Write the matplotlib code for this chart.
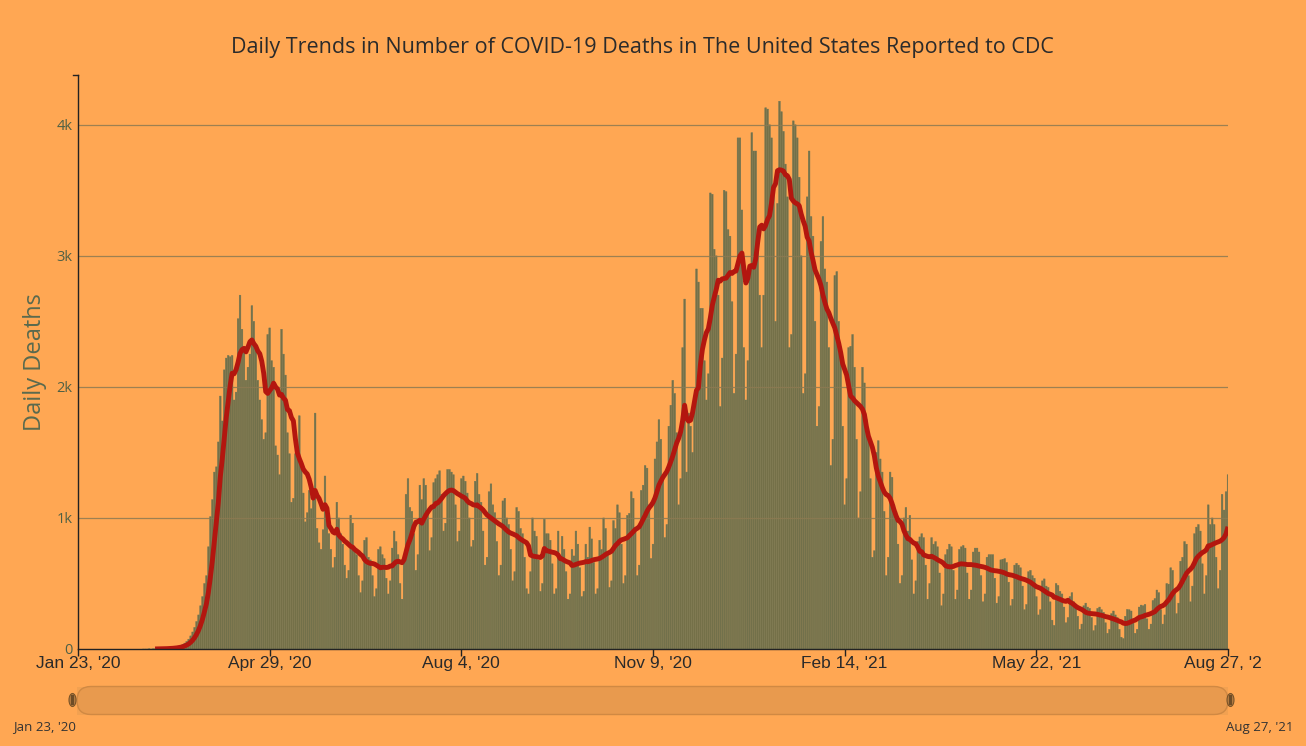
import numpy as np
import pandas as pd
import matplotlib
matplotlib.use('Agg')
import matplotlib.pyplot as plt
from matplotlib.patches import FancyBboxPatch, Rectangle, Ellipse
from matplotlib.transforms import IdentityTransform, Bbox
from matplotlib.lines import Line2D

# ---------------- data ----------------
title = "Daily Trends in Number of COVID-19 Deaths in The United States Reported to CDC"
y_label = "Daily Deaths"
start_date = "2020-02-25"
# daily deaths, one reporting week per line (Thu..Wed after the first two days)
deaths = [
    0, 0,
    0, 1, 0, 1, 1, 2, 3,
    2, 3, 4, 5, 6, 8, 10,
    12, 15, 20, 25, 35, 45, 58,
    75, 100, 130, 165, 210, 260, 330,
    400, 500, 560, 780, 1010, 1140, 1350,
    1390, 1580, 1930, 1740, 2130, 2220, 2240,
    2230, 2240, 1900, 1960, 2520, 2700, 2440,
    2300, 2050, 2150, 2250, 2620, 2500, 2300,
    2050, 1900, 1750, 1600, 1650, 2400, 2450,
    2200, 2150, 1550, 1480, 1330, 2440, 2250,
    2090, 1650, 1490, 1120, 1150, 1490, 1490,
    1780, 1390, 1190, 970, 1040, 1210, 1070,
    1190, 1800, 920, 810, 760, 910, 1320,
    1000, 880, 760, 620, 700, 1120, 1000,
    880, 800, 640, 540, 600, 1020, 960,
    760, 720, 560, 430, 520, 830, 850,
    700, 680, 560, 400, 460, 760, 780,
    720, 690, 540, 420, 520, 770, 900,
    820, 720, 500, 380, 680, 1180, 1300,
    1080, 1050, 880, 600, 720, 1250, 1140,
    1300, 1250, 1050, 750, 850, 1270, 1300,
    1330, 1360, 1180, 900, 960, 1370, 1370,
    1350, 1330, 1100, 820, 900, 1300, 1320,
    1280, 1190, 1000, 780, 830, 1280, 1340,
    1180, 1120, 900, 640, 700, 1200, 1260,
    1100, 1040, 820, 560, 640, 1130, 1150,
    1000, 950, 760, 520, 590, 1080, 1050,
    920, 880, 700, 460, 420, 590, 1000,
    900, 860, 680, 440, 500, 990, 880,
    880, 830, 650, 420, 460, 900, 690,
    860, 760, 590, 380, 420, 760, 710,
    900, 800, 620, 400, 440, 800, 700,
    930, 840, 660, 420, 460, 830, 760,
    1000, 920, 720, 470, 520, 980, 920,
    1100, 1040, 800, 500, 560, 1020, 1035,
    1200, 1150, 920, 560, 640, 1210, 1250,
    1400, 1380, 1100, 690, 800, 1450, 1580,
    1750, 1600, 1300, 850, 950, 1700, 1860,
    2050, 1950, 1650, 1100, 1300, 2300, 2670,
    1350, 1800, 1700, 1500, 1900, 2900, 2800,
    2600, 2600, 2200, 1900, 2100, 3480, 3470,
    3050, 3000, 2700, 1850, 2220, 3500, 3490,
    3200, 3150, 2650, 1950, 2250, 3900, 3900,
    3350, 2300, 1900, 2200, 2900, 3940, 3800,
    3800, 3200, 2700, 2300, 2700, 4130, 4120,
    4000, 3900, 3500, 2500, 3400, 4180, 4100,
    3950, 3700, 3450, 2300, 2400, 4030, 4000,
    3900, 3600, 3000, 1950, 2100, 3450, 3800,
    3300, 3150, 2500, 1700, 1850, 3110, 3300,
    2900, 2800, 2300, 1400, 1600, 2850, 2880,
    2500, 2300, 1700, 1100, 1300, 2300, 2310,
    2400, 2150, 1600, 1000, 1200, 2150, 2030,
    1750, 1650, 1300, 700, 750, 1500, 1590,
    1450, 1350, 1050, 560, 700, 1350, 1310,
    1100, 1050, 800, 500, 560, 1000, 1080,
    900, 1020, 680, 420, 520, 820, 855,
    880, 850, 640, 380, 500, 850, 800,
    820, 780, 580, 330, 420, 720, 760,
    800, 780, 600, 380, 450, 760, 780,
    790, 770, 580, 380, 450, 740, 770,
    770, 740, 560, 360, 420, 700, 720,
    720, 720, 540, 350, 400, 680, 685,
    690, 660, 510, 330, 380, 640, 654,
    640, 620, 480, 300, 340, 590, 600,
    560, 540, 400, 260, 300, 520, 535,
    480, 470, 360, 220, 180, 500, 485,
    440, 420, 320, 200, 240, 400, 430,
    360, 330, 250, 150, 190, 330, 350,
    320, 310, 240, 140, 180, 310, 320,
    300, 280, 200, 120, 150, 270, 290,
    260, 240, 150, 90, 80, 250, 302,
    300, 290, 200, 120, 150, 320, 335,
    330, 340, 230, 150, 190, 370, 385,
    450, 430, 300, 190, 260, 500, 495,
    620, 600, 430, 270, 350, 670, 700,
    820, 800, 560, 360, 480, 880, 930,
    950, 900, 650, 420, 560, 1100, 950,
    1000, 950, 700, 460, 600, 1180, 1060,
    1200, 1330,
]
x_start = "2020-01-23"
x_end = "2021-08-27"
tick_dates = ["2020-01-23", "2020-04-29", "2020-08-04", "2020-11-09",
              "2021-02-14", "2021-05-22", "2021-08-27"]
tick_labels = ["Jan 23, '20", "Apr 29, '20", "Aug 4, '20", "Nov 9, '20",
               "Feb 14, '21", "May 22, '21", "Aug 27, '21"]
y_ticks = [0, 1000, 2000, 3000, 4000]
y_tick_labels = ["0", "1k", "2k", "3k", "4k"]
y_max = 4380
slider_labels = ["Jan 23, '20", "Aug 27, '21"]

# ---------------- style ----------------
BG = '#FFA753'
BAR = '#747048'
EDGE = '#687558'
RED = '#B3160F'
GRID = '#8c7a52'
W, H = 1306, 746
L, R, T, B = 78, 1228, 75, 649

fig = plt.figure(figsize=(W / 100, H / 100), dpi=100, facecolor=BG)
ax = fig.add_axes([L / W, 1 - B / H, (R - L) / W, (B - T) / H])
ax.set_facecolor(BG)

dates = pd.date_range(start_date, periods=len(deaths), freq='D')
bars = ax.bar(dates, deaths, width=0.85, color=BAR, edgecolor=EDGE, linewidth=0.3, zorder=2)
for p in bars.patches:
    p.set_snap(False)
avg = pd.Series(deaths, index=dates, dtype=float).rolling(7).mean()
ax.plot(avg.index, avg.values, color=RED, lw=3.5, zorder=4,
        solid_joinstyle='round', solid_capstyle='butt')

for yv in y_ticks[1:]:
    ax.axhline(yv, color=GRID, lw=0.9, alpha=0.85, zorder=3)

ax.set_xlim(pd.Timestamp(x_start), pd.Timestamp(x_end))
ax.set_ylim(0, y_max)

for s in ['top', 'right']:
    ax.spines[s].set_visible(False)
for s in ['left', 'bottom']:
    ax.spines[s].set_color('#222222')
    ax.spines[s].set_linewidth(1.0)
    ax.spines[s].set_zorder(5)

ax.set_yticks(y_ticks)
ax.set_yticklabels(y_tick_labels, fontfamily='Open Sans', fontsize=10.5, color='#4f6045')
ax.tick_params(axis='y', length=0, pad=4)

ax.set_xticks([pd.Timestamp(d) for d in tick_dates])
ax.set_xticklabels([])
ax.tick_params(axis='x', length=5, width=1, color='#222222', direction='out')

clip = Bbox([[0, 0], [1262, H]])
for d, lab in zip(tick_dates, tick_labels):
    t = ax.text(pd.Timestamp(d), -0.026, lab, transform=ax.get_xaxis_transform(),
                ha='center', va='center', fontsize=12.5, family='Liberation Sans',
                color='#2a2a2a', clip_on=True)
    t.set_clip_box(clip)

# small stub at top of y axis
fig.add_artist(Line2D([73, 78], [H - 75, H - 75], transform=IdentityTransform(),
                      color='#222222', lw=1.0))

fig.text(642 / W, 1 - 47 / H, title, ha='center', va='center', fontsize=15.5,
         family='Open Sans', color='#2b2b2b')
fig.text(35 / W, 1 - 362 / H, y_label, rotation=90, ha='center', va='center',
         fontsize=17, family='Open Sans', color='#5a6a4e')

# range slider
tr = IdentityTransform()
fig.add_artist(Rectangle((77, H - 714.5), 1151, 28, transform=tr,
                         facecolor='#F2A151', edgecolor='none'))
fig.add_artist(FancyBboxPatch((77, H - 714.5), 1151, 28, transform=tr,
                              boxstyle='round,pad=0,rounding_size=14',
                              facecolor='#E89A4E', edgecolor='#D08943', lw=1.0))
for hx in (72.5, 1230.5):
    fig.add_artist(Ellipse((hx, H - 700), 7, 13, transform=tr,
                           facecolor='#B27A40', edgecolor='#7a5428', lw=0.8))
    fig.add_artist(Rectangle((hx - 1.2, H - 705), 2.4, 10, transform=tr,
                             facecolor='#6e4c26', edgecolor='none'))
fig.text(13 / W, 1 - 727 / H, slider_labels[0], ha='left', va='center',
         fontsize=9.5, family='Open Sans', color='#333333')
fig.text(1293 / W, 1 - 727 / H, slider_labels[1], ha='right', va='center',
         fontsize=9.5, family='Open Sans', color='#333333')

fig.savefig('out.png', dpi=100, facecolor=BG)
